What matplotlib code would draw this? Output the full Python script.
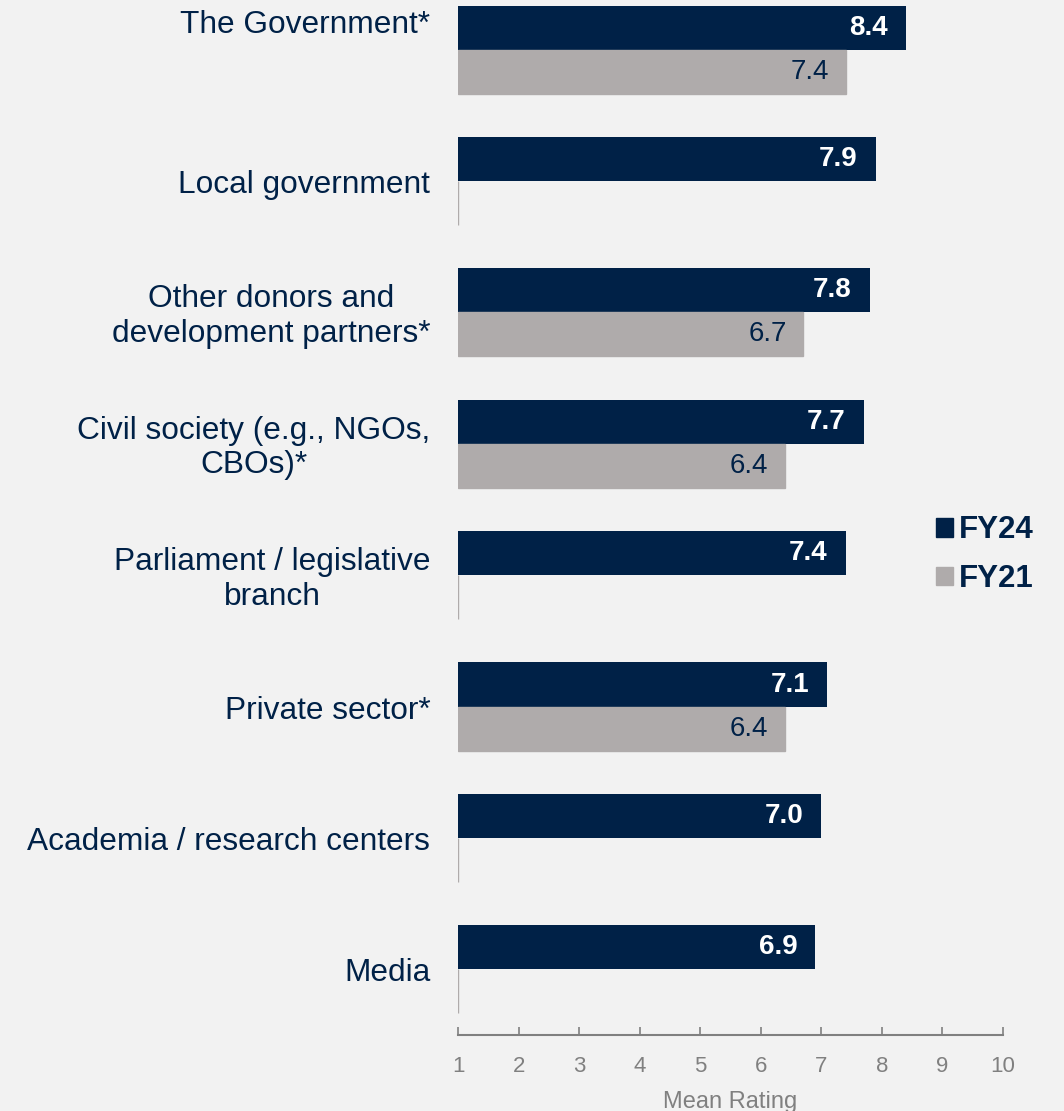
import numpy as np
import matplotlib
matplotlib.use("Agg")
import matplotlib.pyplot as plt
from matplotlib.patches import Patch

matplotlib.rcParams.update({
    'font.family': 'Liberation Sans',
    'figure.facecolor': '#F2F2F2',
    'axes.facecolor': '#F2F2F2',
})

NAVY = '#002147'
GREY = '#AFABAB'
AXIS = '#808080'

categories = ['The Government*', 'Local government',
              'Other donors and\ndevelopment partners*',
              'Civil society (e.g., NGOs,\nCBOs)*',
              'Parliament / legislative\nbranch',
              'Private sector*', 'Academia / research centers', 'Media']
fy24 = [8.4, 7.9, 7.8, 7.7, 7.4, 7.1, 7.0, 6.9]
fy21 = [7.4, None, 6.7, 6.4, None, 6.4, None, None]
xticks = [1, 2, 3, 4, 5, 6, 7, 8, 9, 10]

fig = plt.figure(figsize=(10.64, 11.11), dpi=100)
ax = fig.add_axes([0.4305, 0.0684, 0.5122, 0.9316])

y = np.arange(len(categories))
h = 0.335
ax.barh(y - h / 2, np.array(fy24) - 1, left=1, height=h, color=NAVY)
w21 = np.array([0 if v is None else v - 1 for v in fy21])
ax.barh(y + h / 2, w21, left=1, height=h, color=GREY,
        edgecolor=GREY, linewidth=1)

for i, v in enumerate(fy24):
    ax.annotate(f'{v:.1f}', (v, i - h / 2), xytext=(-13, 0),
                textcoords='offset points', ha='right', va='center',
                color='white', fontsize=20, fontweight='bold')
for i, v in enumerate(fy21):
    if v is not None:
        ax.annotate(f'{v:.1f}', (v, i + h / 2), xytext=(-12, 0),
                    textcoords='offset points', ha='right', va='center',
                    color=NAVY, fontsize=20)

# category labels, first one sits a bit higher in the original
for i, c in enumerate(categories):
    dy = 18 if i == 0 else -3
    ax.annotate(c, (0, i), xycoords=('axes fraction', 'data'),
                xytext=(-20, dy), textcoords='offset points',
                ha='right', va='center', multialignment='center',
                color=NAVY, fontsize=22.8, linespacing=1.2)

ax.set_xlim(1, 10)
ax.set_ylim(7.5, -0.377)
ax.set_xticks(xticks)
ax.set_yticks([])
for s in ['top', 'right', 'left']:
    ax.spines[s].set_visible(False)
ax.spines['bottom'].set_color(AXIS)
ax.spines['bottom'].set_linewidth(1.5)
ax.tick_params(axis='x', direction='in', length=6, width=1.2, color=AXIS,
               labelcolor=AXIS, labelsize=16, pad=15)
ax.set_xlabel('Mean Rating', color=AXIS, fontsize=17, labelpad=10)

handles = [Patch(color=NAVY, label='FY24'), Patch(color=GREY, label='FY21')]
leg = ax.legend(handles=handles, loc='center left', bbox_to_anchor=(0.826, 0.464),
                frameon=False, handlelength=0.53, handleheight=0.53,
                handletextpad=0.2, labelspacing=0.6, fontsize=22.5)
for t in leg.get_texts():
    t.set_color(NAVY)
    t.set_fontweight('bold')

fig.savefig('out.png', dpi=100, facecolor=fig.get_facecolor())
